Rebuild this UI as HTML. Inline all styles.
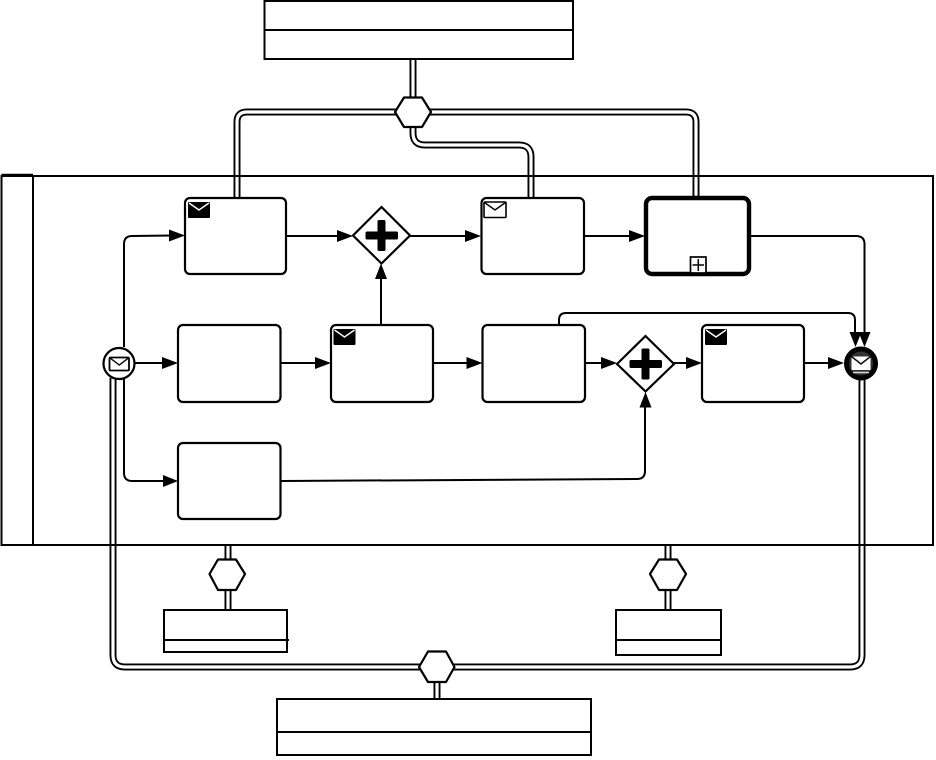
<!DOCTYPE html>
<html>
<head>
<meta charset="utf-8">
<style>
html,body{margin:0;padding:0;background:#fff;width:936px;height:760px;overflow:hidden}
svg{display:block}
.ln{fill:none;stroke:#000;stroke-width:2}
.box{fill:#fff;stroke:#000;stroke-width:2}
.tk{fill:#fff;stroke:#000;stroke-width:2.200}
.co{fill:none;stroke:#000;stroke-width:7}
.ci{fill:none;stroke:#fff;stroke-width:3.200}
.e{fill:none;stroke:#000;stroke-width:2}
.hex{fill:#fff;stroke:#000;stroke-width:2.200;stroke-linejoin:round}
.gw{fill:#fff;stroke:#000;stroke-width:2.200}
</style>
</head>
<body>
<svg width="936" height="760" viewBox="0 0 936 760" xmlns="http://www.w3.org/2000/svg">
<defs>
  <path id="chs" d="M413 59V97M413 112H247Q237 112 237 122V198M413 112H686Q696 112 696 122V198M413 127V133Q413 145 425 145H519Q531 145 531 157V198M113 378V655Q113 667 125 667H850Q862 667 862 655V378M228 545V559M228 590V610M668 545V559M668 590V610M437 682V699"/>
</defs>

<!-- conversation links -->
<use href="#chs" class="co"/>
<use href="#chs" class="ci"/>

<!-- pool -->
<rect x="1.500" y="176" width="931.500" height="369" class="ln"/>
<path d="M1.500 175H33" stroke="#000" stroke-width="2.500" fill="none"/>
<path d="M33 175V545" class="ln"/>

<!-- participant boxes -->
<rect x="264.500" y="1" width="308.500" height="58" class="box"/>
<path d="M264 30H573" class="ln"/>
<rect x="164" y="610" width="123" height="42" class="box"/>
<path d="M164 640H289" class="ln"/>
<rect x="616" y="610" width="105" height="45" class="box"/>
<path d="M616 640H721" class="ln"/>
<rect x="277" y="699" width="314" height="56" class="box"/>
<path d="M277 732H591" class="ln"/>

<!-- hexagons -->
<polygon class="hex" points="395,112 404,97.500 422,97.500 431,112 422,127 404,127"/>
<polygon class="hex" points="209.500,574 218,559.500 236,559.500 245,574 236,590 218,590"/>
<polygon class="hex" points="650,574 659,559.500 677,559.500 686,574 677,590 659,590"/>
<polygon class="hex" points="419,667 428,651.500 446,651.500 454.500,667 446,682 428,682"/>

<!-- sequence flows -->
<path class="e" d="M124 347V244Q124 236 132 236L172 235.500"/>
<path class="e" d="M124 379V473Q124 481 132 481H166"/>
<path class="e" d="M135 363H165"/>
<path class="e" d="M286 236H340"/>
<path class="e" d="M281 363H318"/>
<path class="e" d="M433 363H470"/>
<path class="e" d="M381 325V276"/>
<path class="e" d="M410 236H468"/>
<path class="e" d="M584 236H632"/>
<path class="e" d="M751 236H856Q864.500 236 864.500 244V336"/>
<path class="e" d="M585 363H604"/>
<path class="e" d="M674 363H690"/>
<path class="e" d="M804 363H832"/>
<path class="e" d="M559 325V320Q559 313 566 313H848Q855 313 855 320V336"/>
<path class="e" d="M281 481L637 479Q645 479 645 471V404"/>

<!-- arrowheads -->
<g fill="#000">
  <polygon points="185,235.500 169,229.500 169,241.500"/>
  <polygon points="178,363 162,357 162,369"/>
  <polygon points="178,481 163,475 163,487"/>
  <polygon points="353,236 337,230 337,242"/>
  <polygon points="331,363 315,357 315,369"/>
  <polygon points="482.500,363 466.500,357 466.500,369"/>
  <polygon points="381,263.500 375,279 387,279"/>
  <polygon points="481,236 465,230 465,242"/>
  <polygon points="645,236 629,230 629,242"/>
  <polygon points="617,363 601,357 601,369"/>
  <polygon points="702,363 686,357 686,369"/>
  <polygon points="844,363 828,357 828,369"/>
  <polygon points="855.500,347 849.500,332 861.500,332"/>
  <polygon points="864.500,347 858.500,332 870.500,332"/>
  <polygon points="645.500,392 639.500,407.500 651.500,407.500"/>
</g>

<!-- tasks -->
<rect class="tk" x="185" y="198" width="101" height="76" rx="5"/>
<rect class="tk" x="481.500" y="198" width="102.500" height="76" rx="5"/>
<rect x="646" y="198" width="103" height="76" rx="6" fill="#fff" stroke="#000" stroke-width="4.400"/>
<rect class="tk" x="178" y="325" width="102.500" height="77" rx="5"/>
<rect class="tk" x="331" y="325" width="102" height="77" rx="5"/>
<rect class="tk" x="482.500" y="325" width="102.500" height="77" rx="5"/>
<rect class="tk" x="702" y="325" width="102" height="77" rx="5"/>
<rect class="tk" x="178" y="443" width="102.500" height="76" rx="5"/>

<!-- subprocess marker -->
<rect x="690.500" y="257" width="15.500" height="16" fill="#fff" stroke="#000" stroke-width="1.700"/>
<path d="M698.300 259V271M692.500 265H704" stroke="#000" stroke-width="1.500" fill="none"/>

<!-- task mail markers -->
<rect x="188" y="202" width="22" height="16" rx="1" fill="#000"/>
<path d="M189 203L199 210L209 203" fill="none" stroke="#fff" stroke-width="1.400"/>
<rect x="333.500" y="329" width="22" height="16" rx="1" fill="#000"/>
<path d="M334.500 330L344.500 337L354.500 330" fill="none" stroke="#fff" stroke-width="1.400"/>
<rect x="705" y="329" width="22" height="16" rx="1" fill="#000"/>
<path d="M706 330L716 337L726 330" fill="none" stroke="#fff" stroke-width="1.400"/>
<rect x="484" y="202" width="22" height="15.500" rx="1" fill="#fff" stroke="#000" stroke-width="1.600"/>
<path d="M484.500 202.500L495 210L505.500 202.500" fill="none" stroke="#000" stroke-width="1.400"/>

<!-- gateways -->
<polygon class="gw" points="353,235.500 381.500,207 410,235.500 381.500,263.500"/>
<rect x="377.500" y="220" width="8" height="31" rx="1.500"/>
<rect x="365.500" y="231.500" width="32.500" height="8" rx="1.500"/>
<polygon class="gw" points="617,364 645.500,336 674,364 645.500,391.500"/>
<rect x="641.500" y="348.500" width="8" height="31" rx="1.500"/>
<rect x="629.500" y="360" width="32.500" height="8" rx="1.500"/>

<!-- start event -->
<circle cx="119" cy="363.500" r="15.500" fill="#fff" stroke="#000" stroke-width="2.200"/>
<rect x="109.500" y="357.500" width="19.500" height="13" rx="1" fill="#fff" stroke="#000" stroke-width="1.800"/>
<path d="M110 358L119.300 365L128.500 358" fill="none" stroke="#000" stroke-width="1.400"/>

<!-- end event -->
<circle cx="861" cy="363.500" r="14.500" fill="#333" stroke="#000" stroke-width="5"/>
<rect x="851.500" y="356.500" width="19" height="13.500" fill="#fff"/>
<path d="M851.500 356.500L861 364L870.500 356.500" fill="none" stroke="#111" stroke-width="1.500"/>
<path d="M853 372.500H869" stroke="#ddd" stroke-width="1.500"/>
</svg>
</body>
</html>
